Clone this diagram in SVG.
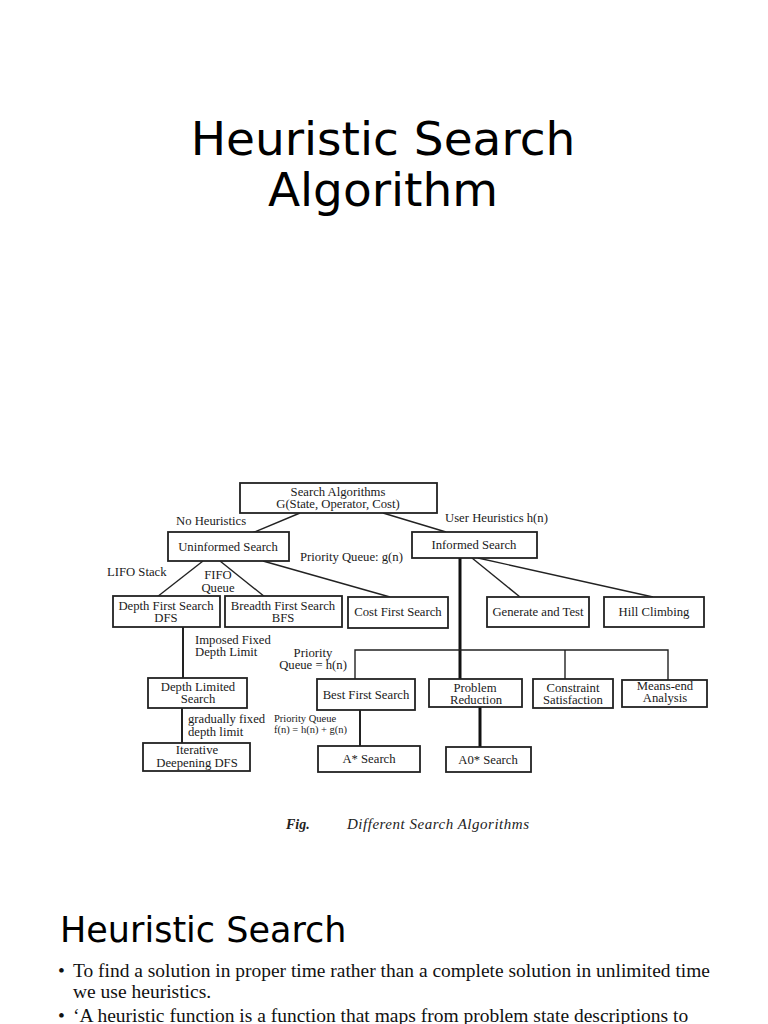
<svg xmlns="http://www.w3.org/2000/svg" width="768" height="1024" viewBox="0 0 768 1024">
<style>
.title{font-family:"DejaVu Sans",sans-serif;fill:#000}
.box{fill:#fff;stroke:#222;stroke-width:1.8}
.t{font-family:"Liberation Serif","Times New Roman",serif;font-size:12.7px;fill:#1a1a1a;text-anchor:middle}
.l{font-family:"Liberation Serif","Times New Roman",serif;font-size:12.7px;fill:#1a1a1a}
.s{font-family:"Liberation Serif","Times New Roman",serif;font-size:10.5px;fill:#1a1a1a}
.c{stroke:#222;stroke-width:1.4;fill:none}
.m{stroke:#222;stroke-width:2;fill:none}
.k{stroke:#111;stroke-width:3;fill:none}
.body{font-family:"Liberation Serif","Times New Roman",serif;font-size:19.5px;fill:#111}
</style>
<rect width="768" height="1024" fill="#fff"/>
<text class="title" x="383" y="155" font-size="47" text-anchor="middle">Heuristic Search</text>
<text class="title" x="383" y="206" font-size="47" text-anchor="middle">Algorithm</text>

<g id="connectors">
<line class="c" x1="300" y1="513" x2="252" y2="533"/>
<line class="c" x1="383" y1="513" x2="446" y2="532"/>
<line class="c" x1="203" y1="561" x2="157" y2="597"/>
<line class="c" x1="220" y1="561" x2="265" y2="597"/>
<line class="c" x1="263" y1="561" x2="390" y2="597"/>
<line class="c" x1="472" y1="558" x2="520" y2="597"/>
<line class="c" x1="478" y1="558" x2="653" y2="597"/>
<line class="k" x1="460" y1="558" x2="460" y2="679"/>
<polyline class="c" points="355,679 355,650 668,650 668,680"/>
<line class="c" x1="565" y1="650" x2="565" y2="679"/>
<line class="m" x1="183" y1="627" x2="183" y2="678"/>
<line class="m" x1="182" y1="708" x2="182" y2="744"/>
<line class="m" x1="360" y1="710" x2="360" y2="746"/>
<line class="k" x1="480" y1="707" x2="480" y2="747"/>
</g>

<g id="n-search-algorithms"><rect class="box" x="240" y="483" width="197" height="30"/>
<text class="t" x="338" y="496">Search Algorithms</text><text class="t" x="338" y="508">G(State, Operator, Cost)</text></g>
<g id="n-uninformed"><rect class="box" x="168" y="532" width="121" height="29"/>
<text class="t" x="228" y="551">Uninformed Search</text></g>
<g id="n-informed"><rect class="box" x="412" y="532" width="125" height="26"/>
<text class="t" x="474" y="549">Informed Search</text></g>
<g id="n-dfs"><rect class="box" x="113" y="596" width="107" height="31"/>
<text class="t" x="166" y="610">Depth First Search</text><text class="t" x="166" y="622">DFS</text></g>
<g id="n-bfs"><rect class="box" x="225" y="596" width="117" height="31"/>
<text class="t" x="283" y="610">Breadth First Search</text><text class="t" x="283" y="622">BFS</text></g>
<g id="n-cost"><rect class="box" x="348" y="597" width="100" height="31"/>
<text class="t" x="398" y="616">Cost First Search</text></g>
<g id="n-generate"><rect class="box" x="487" y="597" width="102" height="30"/>
<text class="t" x="538" y="616">Generate and Test</text></g>
<g id="n-hill"><rect class="box" x="604" y="597" width="100" height="30"/>
<text class="t" x="654" y="616">Hill Climbing</text></g>
<g id="n-depth-limited"><rect class="box" x="148" y="678" width="99" height="30"/>
<text class="t" x="198" y="691">Depth Limited</text><text class="t" x="198" y="703">Search</text></g>
<g id="n-best-first"><rect class="box" x="317" y="679" width="98" height="31"/>
<text class="t" x="366" y="699">Best First Search</text></g>
<g id="n-problem-reduction"><rect class="box" x="429" y="679" width="93" height="28"/>
<text class="t" x="475" y="692">Problem</text><text class="t" x="476" y="704">Reduction</text></g>
<g id="n-constraint"><rect class="box" x="533" y="679" width="80" height="29"/>
<text class="t" x="573" y="692">Constraint</text><text class="t" x="573" y="704">Satisfaction</text></g>
<g id="n-means-end"><rect class="box" x="622" y="680" width="85" height="27"/>
<text class="t" x="665" y="690">Means-end</text><text class="t" x="665" y="702">Analysis</text></g>
<g id="n-iterative"><rect class="box" x="143" y="743" width="107" height="28"/>
<text class="t" x="197" y="754">Iterative</text><text class="t" x="197" y="767">Deepening DFS</text></g>
<g id="n-astar"><rect class="box" x="318" y="746" width="102" height="26"/>
<text class="t" x="369" y="763">A* Search</text></g>
<g id="n-a0star"><rect class="box" x="446" y="747" width="85" height="25"/>
<text class="t" x="488" y="764">A0* Search</text></g>

<g id="labels">
<text class="l" x="176" y="525">No Heuristics</text>
<text class="l" x="445" y="522">User Heuristics h(n)</text>
<text class="l" x="300" y="561">Priority Queue: g(n)</text>
<text class="l" x="107" y="576">LIFO Stack</text>
<text class="l" x="218" y="579" text-anchor="middle">FIFO</text>
<text class="l" x="218" y="592" text-anchor="middle">Queue</text>
<text class="l" x="195" y="644">Imposed Fixed</text>
<text class="l" x="195" y="656">Depth Limit</text>
<text class="l" x="313" y="657" text-anchor="middle">Priority</text>
<text class="l" x="313" y="669" text-anchor="middle">Queue = h(n)</text>
<text class="l" x="188" y="723">gradually fixed</text>
<text class="l" x="188" y="736">depth limit</text>
<text class="s" x="274" y="722">Priority Queue</text>
<text class="s" x="274" y="733">f(n) = h(n) + g(n)</text>
</g>

<text x="286" y="829" font-family="Liberation Serif, serif" font-size="14" font-weight="bold" font-style="italic" fill="#222">Fig.</text>
<text x="347" y="829" font-family="Liberation Serif, serif" font-size="15" font-style="italic" fill="#222" textLength="182" lengthAdjust="spacing">Different Search Algorithms</text>

<text class="title" x="60" y="942" font-size="35">Heuristic Search</text>
<text class="body" x="58" y="977">•</text>
<text class="body" x="73" y="977" textLength="637" lengthAdjust="spacingAndGlyphs">To find a solution in proper time rather than a complete solution in unlimited time</text>
<text class="body" x="73" y="998">we use heuristics.</text>
<text class="body" x="58" y="1022">•</text>
<text class="body" x="73" y="1022">‘A heuristic function is a function that maps from problem state descriptions to</text>
</svg>
